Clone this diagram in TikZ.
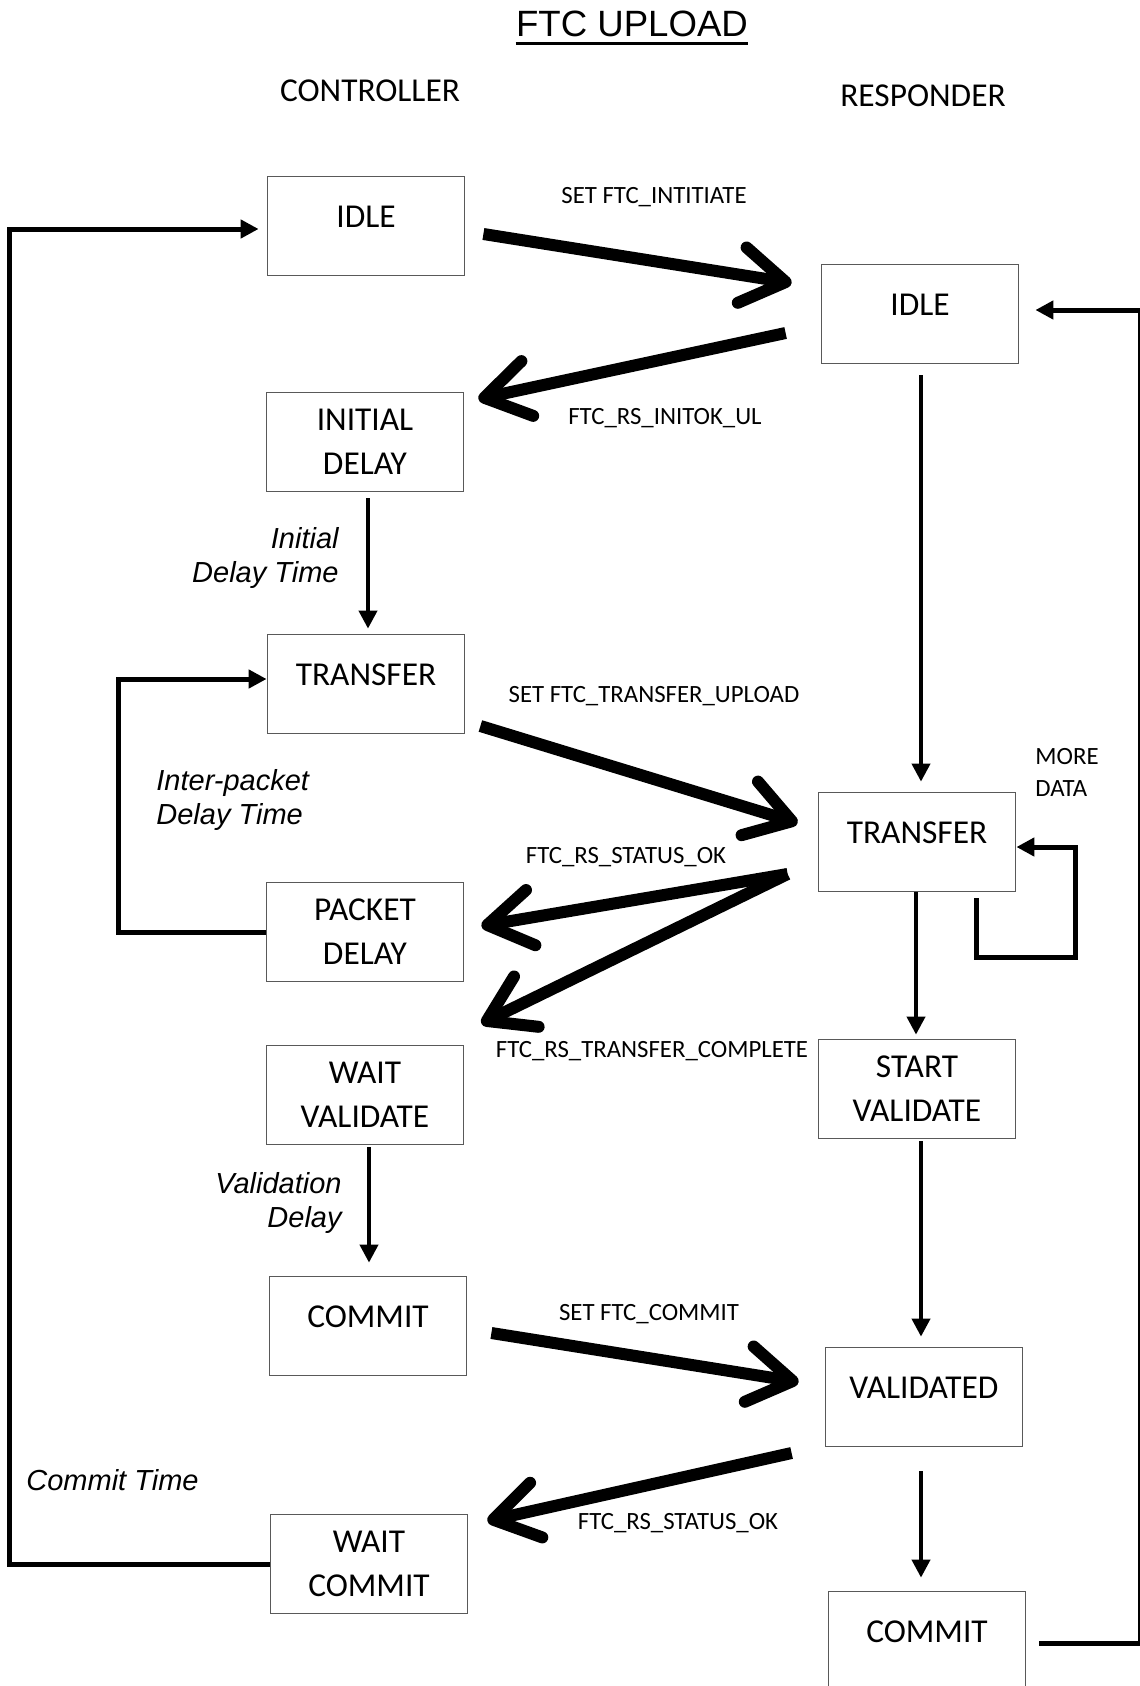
\documentclass[tikz,border=0pt]{standalone}
\usepackage{fontspec}
\setmainfont{Carlito}
\newfontfamily\arialfont{Liberation Sans}
\usetikzlibrary{arrows.meta}

\begin{document}
\begin{tikzpicture}[
  x=0.5pt, y=-0.5pt,
  statebox/.style={
    rectangle,
    draw=black!65,
    line width=0.9pt,
    minimum width=98.5pt,
    minimum height=49.5pt,
    inner sep=0pt,
    align=center,
    font=\fontsize{16.7}{22}\selectfont
  },
  single/.style={statebox, text depth=9pt},
  head/.style={font=\fontsize{16.7}{20}\selectfont, inner sep=0pt},
  msg/.style={font=\fontsize{12.4}{16}\selectfont, inner sep=0pt},
  note/.style={font=\arialfont\itshape\fontsize{14.5}{17}\selectfont, inner sep=0pt},
  rel/.style={-{Straight Barb[length=22pt,width=28pt,round]}, line width=6pt},
  thin/.style={-{Triangle[length=9pt,width=9pt]}, line width=2pt},
  back/.style={-{Triangle[length=9pt,width=9pt]}, line width=2.5pt}
]
\useasboundingbox (0,0) rectangle (1140,1686);

\node[font=\arialfont\fontsize{18.3}{22}\selectfont, inner sep=0pt] (title) at (632,24) {FTC UPLOAD};
\draw[line width=1.4pt] ([shift={(0,7)}]title.base west) -- ([shift={(0,7)}]title.base east);

\node[head] (ctrl) at (370,91) {CONTROLLER};
\node[head] (resp) at (923,96) {RESPONDER};

% controller side
\node[single] (cidle) at (366,226) {IDLE};
\node[statebox] (cinit) at (365,442) {INITIAL\\DELAY};
\node[single] (ctransfer) at (366,684) {TRANSFER};
\node[statebox] (cpacket) at (365,932) {PACKET\\DELAY};
\node[statebox] (cwaitval) at (365,1095) {WAIT\\VALIDATE};
\node[single] (ccommit) at (368,1326) {COMMIT};
\node[statebox] (cwaitcom) at (369,1564) {WAIT\\COMMIT};

% responder side
\node[single] (ridle) at (920,314) {IDLE};
\node[single] (rtransfer) at (917,842) {TRANSFER};
\node[statebox] (rstartval) at (917,1089) {START\\VALIDATE};
\node[single] (rvalid) at (924,1397) {VALIDATED};
\node[single] (rcommit) at (927,1641) {COMMIT};

% messages
\draw[rel] ([shift={(18,8)}]cidle.east) -- ([shift={(-29,-31)}]ridle.west);
\draw[rel] ([shift={(-35,19)}]ridle.west) -- ([shift={(14,-43)}]cinit.east);
\draw[rel] ([shift={(15,42)}]ctransfer.east) -- ([shift={(-20,-19)}]rtransfer.west);
\draw[rel] ([shift={(-30,32)}]rtransfer.west) -- ([shift={(17,-6)}]cpacket.east);
\draw[rel] ([shift={(-30,32)}]rtransfer.west) -- ([shift={(17,-21)}]cwaitval.north east);
\draw[rel] ([shift={(24,7)}]ccommit.east) -- ([shift={(-26,-15)}]rvalid.west);
\draw[rel] ([shift={(-33,56)}]rvalid.west) -- ([shift={(19,-43)}]cwaitcom.east);

\node[msg] (m1) at (654,197) {SET FTC\_INTITIATE};
\node[msg] (m2) at (665,418) {FTC\_RS\_INITOK\_UL};
\node[msg] (m3) at (654,696) {SET FTC\_TRANSFER\_UPLOAD};
\node[msg] (m4) at (626,857) {FTC\_RS\_STATUS\_OK};
\node[msg] (m5) at (652,1051) {FTC\_RS\_TRANSFER\_COMPLETE};
\node[msg] (m6) at (649,1314) {SET FTC\_COMMIT};
\node[msg] (m7) at (678,1523) {FTC\_RS\_STATUS\_OK};

% state steps
\draw[thin] ([shift={(3,6)}]cinit.south) -- ([shift={(2,-5)}]ctransfer.north);
\draw[thin] ([shift={(4,2)}]cwaitval.south) -- ([shift={(1,-13)}]ccommit.north);
\draw[thin] ([shift={(1,11)}]ridle.south) -- ([shift={(4,-10)}]rtransfer.north);
\draw[thin] ([shift={(-1,0)}]rtransfer.south) -- ([shift={(-1,-4)}]rstartval.north);
\draw[thin] ([shift={(4,2)}]rstartval.south) -- ([shift={(-3,-10)}]rvalid.north);
\draw[thin] ([shift={(-3,24)}]rvalid.south) -- ([shift={(-6,-13)}]rcommit.north);

\node[note, anchor=east, align=right] (tinit) at (339,558) {Initial\\Delay Time};
\node[note, anchor=west, align=left] (tpacket) at (156,800) {Inter-packet\\Delay Time};
\node[note, anchor=east, align=right] (tvalid) at (342,1203) {Validation\\Delay};
\node[note, anchor=west] (tcommit) at (26,1480) {Commit Time};

% loops
\draw[back] (cpacket.west) -- ++(-147,0) |- ([shift={(0,-5)}]ctransfer.west);
\draw[back] (cwaitcom.west) -- ++(-260,0) |- ([shift={(-8,3)}]cidle.west);
\draw[back] ([shift={(-40,6)}]rtransfer.south east) -- ++(0,59) -- ++(99,0) |- ([shift={(0,5)}]rtransfer.east);
\draw[back] ([shift={(13,2)}]rcommit.east) -- ++(101.5,0) |- ([shift={(16,-4)}]ridle.east);

\node[msg, anchor=west, align=left] (more) at (1035,772) {MORE\\DATA};

\end{tikzpicture}
\end{document}
